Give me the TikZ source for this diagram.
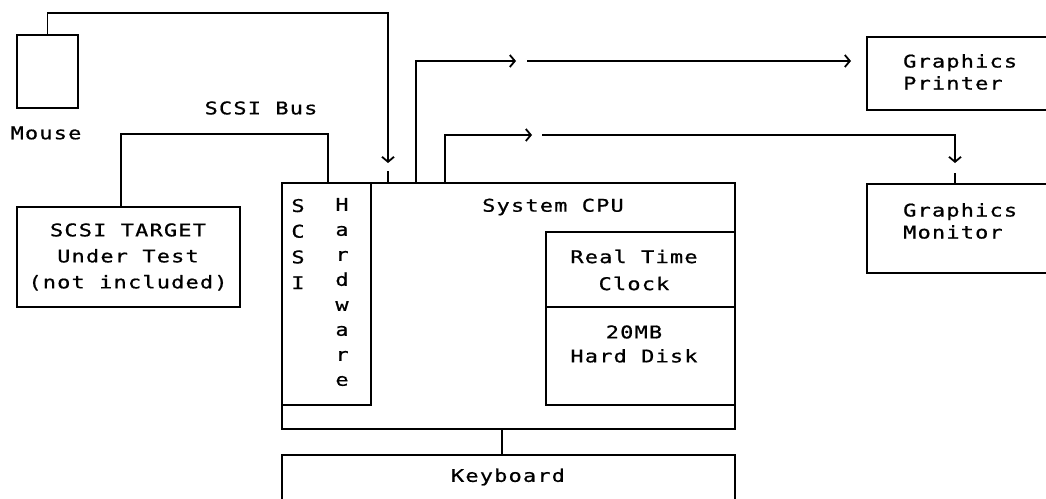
\documentclass[tikz,border=0pt]{standalone}
\usepackage{fontspec}
\newfontfamily\dmono[FakeStretch=1.25,LetterSpace=7,FakeBold=0.8]{DejaVu Sans Mono}
\usetikzlibrary{arrows.meta}
\begin{document}
\begin{tikzpicture}[x=1pt,y=-1pt,
  box/.style={draw,line width=1.8pt,inner sep=0pt,outer sep=0pt,anchor=north west},
  txt/.style={inner sep=0pt,align=center,font=\dmono\fontsize{17.5}{#1}\selectfont},
  txt/.default=26,
  ltxt/.style={inner sep=0pt,align=left,anchor=west,font=\dmono\fontsize{17.5}{#1}\selectfont},
  ltxt/.default=22,
  wire/.style={line width=1.8pt},
  chev/.style={wire,-{Straight Barb[length=5pt,width=12pt]}}]
\useasboundingbox (0,0) rectangle (1046,498);
\clip (0,0) rectangle (1046,498);
% boxes
\node[box,minimum width=61pt,minimum height=73pt] (mouse) at (17,35) {};
\node[box,minimum width=223pt,minimum height=100pt] (target) at (17,207) {};
\node[box,minimum width=453pt,minimum height=246pt] (cpu) at (282,183) {};
\node[box,minimum width=89pt,minimum height=222pt] (scsihw) at (282,183) {};
\node[box,minimum width=189pt,minimum height=75pt] (rtc) at (546,232) {};
\node[box,minimum width=189pt,minimum height=98pt] (disk) at (546,307) {};
\node[box,minimum width=453pt,minimum height=60pt] (keyboard) at (282,455) {};
\node[box,minimum width=200pt,minimum height=73pt] (printer) at (867,37) {};
\node[box,minimum width=200pt,minimum height=89pt] (monitor) at (867,184) {};
% texts
\node[txt] (tmouse) at (46,133) {Mouse};
\node[txt] (tbus) at (261,108) {SCSI Bus};
\node[txt] (ttarget) at (128,257) {SCSI TARGET\\Under Test\\(not included)};
\node[txt=25.7] (tscsi) at (298,244) {S\\C\\S\\I};
\node[txt=25] (thw) at (342,292) {H\\a\\r\\d\\w\\a\\r\\e};
\node[txt] (tcpu) at (553,207) {System CPU};
\node[txt=27] (trtc) at (634,270) {Real Time\\Clock};
\node[txt=24] (tdisk) at (634,344) {20MB\\Hard Disk};
\node[txt] (tkey) at (508,477) {Keyboard};
\node[ltxt] (tprinter) at (903,72) {Graphics\\Printer};
\node[ltxt] (tmonitor) at (903,221) {Graphics\\Monitor};
% coordinates
\coordinate (mc1) at (388,13);
\coordinate (mc2) at (388,163);
\coordinate (mc3) at (388,171);
\coordinate (pc1) at (416,61);
\coordinate (pc2) at (516,61);
\coordinate (pc3) at (527,61);
\coordinate (pc4) at (851,61);
\coordinate (mo1) at (445,135);
\coordinate (mo2) at (532,135);
\coordinate (mo3) at (542,135);
\coordinate (mo5) at (955,163);
\coordinate (mo6) at (955,173);
\coordinate (sb1) at (121,134);
\coordinate (sb2) at (328,134);
\coordinate (kb) at (502,440);
% connectors
\draw[chev] (mouse.north) |- (mc1) -- (mc2);
\draw[wire] (mc3) -- (mc3 |- cpu.north);
\draw[chev] (cpu.north -| pc1) |- (pc2);
\draw[chev] (pc3) -- (pc4);
\draw[chev] (cpu.north -| mo1) |- (mo2);
\draw[chev] (mo3) -| (mo5);
\draw[wire] (mo6) -- (mo6 |- monitor.north);
\draw[wire] (target.north -| sb1) |- (sb2) -- (sb2 |- cpu.north);
\draw[wire] (cpu.south -| kb) -- (kb |- keyboard.north);
\end{tikzpicture}
\end{document}
